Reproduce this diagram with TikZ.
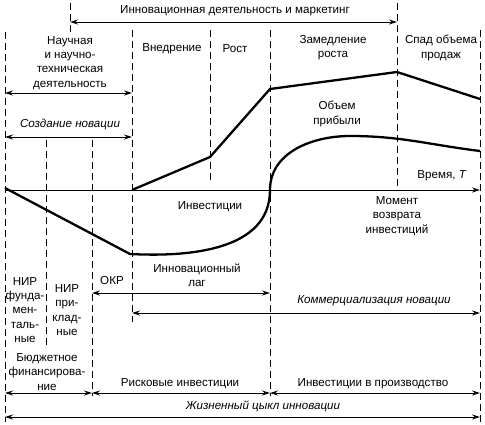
\documentclass[tikz,border=0pt]{standalone}
\usepackage{fontspec}
\setmainfont{Liberation Sans}
\usetikzlibrary{arrows.meta}
\tikzset{
  guide/.style={line width=0.8pt, dash pattern=on 7pt off 4pt},
  span/.style={{Stealth[length=8pt,width=5pt]}-{Stealth[length=8pt,width=5pt]}, line width=0.9pt},
  ray/.style={-{Stealth[length=8pt,width=5pt]}, line width=0.9pt},
  curve/.style={line width=2.3pt, line join=round},
  lbl/.style={align=center, inner sep=0pt, font=\fontsize{11.6}{14.2}\selectfont},
  ital/.style={lbl, font=\fontsize{11.6}{14.2}\selectfont\itshape}
}
\begin{document}
\begin{tikzpicture}[x=1pt,y=-1pt]
  \useasboundingbox (0,0) rectangle (485,425);
  \begin{scope}[guide]
    \draw (5,32) -- (5,422);
    \draw (46,140) -- (46,346);
    \draw (70,3) -- (70,33);
    \draw (92,140) -- (92,396);
    \draw (132,30) -- (132,322);
    \draw (210,30) -- (210,180);
    \draw (270,30) -- (270,396);
    \draw (397,3) -- (397,190);
    \draw (480,30) -- (480,422);
  \end{scope}
  \path
    (70,22) coordinate (mkt-l) (397,22) coordinate (mkt-r)
    (5,93) coordinate (sci-l) (132,93) coordinate (sci-r)
    (5,137) coordinate (new-l) (132,137) coordinate (new-r)
    (5,190) coordinate (t-0) (480,190) coordinate (t-end)
    (92,293) coordinate (lag-l) (270,293) coordinate (lag-r)
    (132,313) coordinate (com-l) (480,313) coordinate (com-r)
    (5,393) coordinate (fin-0) (92,393) coordinate (fin-1)
    (270,393) coordinate (fin-2) (480,393) coordinate (fin-3)
    (5,417) coordinate (life-l) (480,417) coordinate (life-r);
  \draw[span] (mkt-l) -- (mkt-r);
  \draw[span] (sci-l) -- (sci-r);
  \draw[span] (new-l) -- (new-r);
  \draw[ray] (t-0) -- (t-end);
  \draw[span] (lag-l) -- (lag-r);
  \draw[span] (com-l) -- (com-r);
  \draw[span] (fin-0) -- (fin-1);
  \draw[span] (fin-1) -- (fin-2);
  \draw[span] (fin-2) -- (fin-3);
  \draw[span] (life-l) -- (life-r);
  \draw[curve] (132,190) -- (210,157) -- (270,89) -- (397,72) -- (480,99);
  \draw[curve] (5,188) -- (130,254) to[out=-3,in=-90] (270,190)
    to[out=90,in=180] (350,136) to[out=0,in=173] (480,151);
  \node[lbl] (mkt) at (235,11) {Инновационная деятельность и маркетинг};
  \node[lbl] (sci) at (70,63) {Научная\\и научно-\\техническая\\деятельность};
  \node[ital] (new) at (70,124) {Создание новации};
  \node[lbl] (intro) at (172,49) {Внедрение};
  \node[lbl] (grow) at (235,49) {Рост};
  \node[lbl] (slow) at (333,48) {Замедление\\роста};
  \node[lbl] (fall) at (441,48) {Спад объема\\продаж};
  \node[lbl] (profit) at (337,114) {Объем\\прибыли};
  \node[lbl] (time) at (442,176) {Время, \textit{T}};
  \node[lbl] (inv) at (210,207) {Инвестиции};
  \node[lbl] (pay) at (397,216) {Момент\\возврата\\инвестиций};
  \node[lbl] (lag) at (197,275) {Инновационный\\лаг};
  \node[lbl] (okr) at (112,281) {ОКР};
  \node[lbl] (nirf) at (25,310) {НИР\\фунда-\\мен-\\таль-\\ные};
  \node[lbl] (nira) at (67,310) {НИР\\при-\\клад-\\ные};
  \node[lbl] (budget) at (47,372) {Бюджетное\\финансирова-\\ние};
  \node[ital] (com) at (374,301) {Коммерциализация новации};
  \node[lbl] (risk) at (180,384) {Рисковые инвестиции};
  \node[lbl] (prod) at (373,384) {Инвестиции в производство};
  \node[ital] (life) at (263,406) {Жизненный цыкл инновации};
\end{tikzpicture}
\end{document}
